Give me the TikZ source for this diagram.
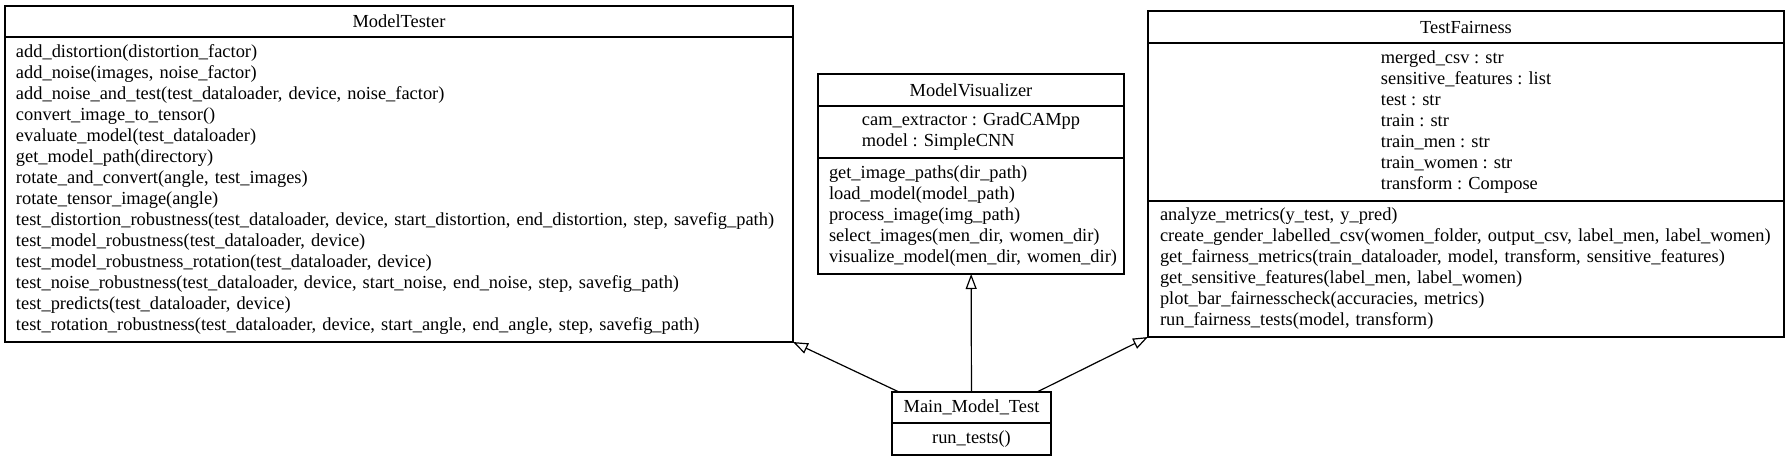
\documentclass[tikz,border=0pt]{standalone}
\usepackage{fontspec}
\setmainfont{Liberation Serif}
\usetikzlibrary{positioning,arrows.meta}

\begin{document}
\begin{tikzpicture}[x=1pt, y=-1pt,
    font=\fontsize{18.4}{21}\selectfont,
    box/.style={draw, rectangle, line width=1.2pt, inner sep=0pt, outer sep=0pt},
    head/.style={box, anchor=north west, minimum height=31pt},
    opslist/.style={box, text width=#1, align=left},
    inherit/.style={-{Triangle[open, length=15pt, width=11pt]}, line width=1.2pt}]
    \useasboundingbox[fill=white] (0,0) rectangle (1789,461);

    % ModelTester class
    \node[head, minimum width=788pt] (tester) at (5,6) {ModelTester};
    \node[opslist=766pt, below=0pt of tester, minimum width=788pt, minimum height=305pt] (testerOps) {\begin{tabular}{@{}l@{}}add\_distortion(distortion\_factor)\\add\_noise(images, noise\_factor)\\add\_noise\_and\_test(test\_dataloader, device, noise\_factor)\\convert\_image\_to\_tensor()\\evaluate\_model(test\_dataloader)\\get\_model\_path(directory)\\rotate\_and\_convert(angle, test\_images)\\rotate\_tensor\_image(angle)\\test\_distortion\_robustness(test\_dataloader, device, start\_distortion, end\_distortion, step, savefig\_path)\\test\_model\_robustness(test\_dataloader, device)\\test\_model\_robustness\_rotation(test\_dataloader, device)\\test\_noise\_robustness(test\_dataloader, device, start\_noise, end\_noise, step, savefig\_path)\\test\_predicts(test\_dataloader, device)\\test\_rotation\_robustness(test\_dataloader, device, start\_angle, end\_angle, step, savefig\_path)\end{tabular}};

    % ModelVisualizer class
    \node[head, minimum width=306pt, minimum height=32pt] (visual) at (818,74) {ModelVisualizer};
    \node[box, below=0pt of visual, minimum width=306pt, minimum height=52pt, align=left] (visualAttr) {cam\_extractor : GradCAMpp\\model : SimpleCNN};
    \node[opslist=284pt, below=0pt of visualAttr, minimum width=306pt, minimum height=116pt] (visualOps) {\begin{tabular}{@{}l@{}}get\_image\_paths(dir\_path)\\load\_model(model\_path)\\process\_image(img\_path)\\select\_images(men\_dir, women\_dir)\\visualize\_model(men\_dir, women\_dir)\end{tabular}};

    % TestFairness class
    \node[head, minimum width=636pt, minimum height=32pt] (fair) at (1148,11) {TestFairness};
    \node[box, below=0pt of fair, minimum width=636pt, minimum height=158pt, align=left] (fairAttr) {merged\_csv : str\\sensitive\_features : list\\test : str\\train : str\\train\_men : str\\train\_women : str\\transform : Compose};
    \node[opslist=612pt, below=0pt of fairAttr, minimum width=636pt, minimum height=136pt] (fairOps) {\begin{tabular}{@{}l@{}}analyze\_metrics(y\_test, y\_pred)\\create\_gender\_labelled\_csv(women\_folder, output\_csv, label\_men, label\_women)\\get\_fairness\_metrics(train\_dataloader, model, transform, sensitive\_features)\\get\_sensitive\_features(label\_men, label\_women)\\plot\_bar\_fairnesscheck(accuracies, metrics)\\run\_fairness\_tests(model, transform)\end{tabular}};

    % Main_Model_Test class
    \node[head, minimum width=159pt] (main) at (892,392) {Main\_Model\_Test};
    \node[box, below=0pt of main, minimum width=159pt, minimum height=32pt] (mainOps) {run\_tests()};

    % Inheritance
    \draw[inherit] ([xshift=7pt]main.north west) -- (testerOps.south east);
    \draw[inherit] (main) -- (visualOps);
    \draw[inherit] ([xshift=-14pt]main.north east) -- (fairOps.south west);
\end{tikzpicture}
\end{document}
